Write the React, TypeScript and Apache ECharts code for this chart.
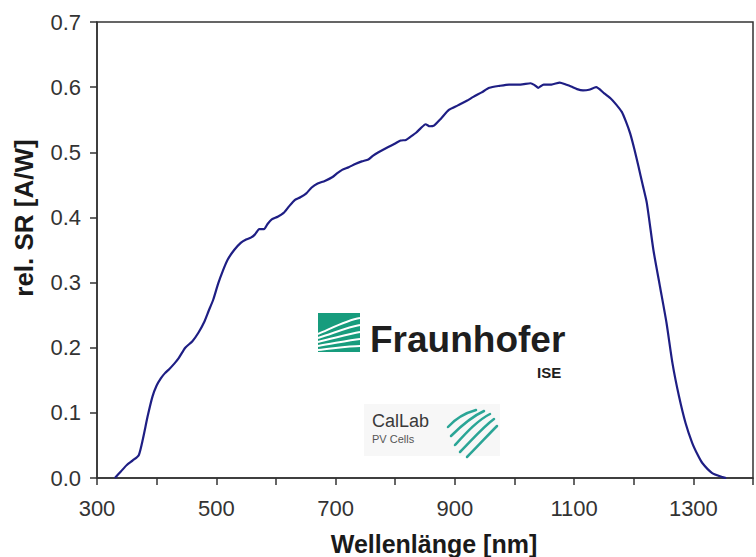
import React, { useEffect, useRef } from "react";
import * as echarts from "echarts";

const wavelengths = [
  330, 340, 350, 360, 370, 377, 385, 393, 400, 407, 414, 421, 430, 437, 448, 460, 470, 480, 487, 495,
  503, 511, 519, 530, 541, 550, 558, 565, 572, 580, 586, 593, 603, 613, 622, 632, 641, 651, 660, 670,
  682, 695, 703, 711, 722, 733, 744, 755, 763, 772, 786, 799, 809, 818, 826, 835, 843, 851, 858, 865,
  877, 890, 905, 920, 931, 945, 958, 975, 991, 1010, 1027, 1034, 1040, 1049, 1062, 1076, 1086, 1095, 1105, 1115,
  1125, 1137, 1150, 1161, 1170, 1180, 1187, 1194, 1201, 1208, 1215, 1222, 1233, 1244, 1255, 1265, 1276, 1287, 1298, 1307,
  1315, 1331, 1348, 1355,
];
const responsivity = [
  0.0, 0.01, 0.02, 0.027, 0.035, 0.06, 0.095, 0.125, 0.142, 0.153, 0.161, 0.167, 0.176, 0.184, 0.2, 0.21, 0.223, 0.24, 0.256, 0.274,
  0.298, 0.318, 0.335, 0.35, 0.361, 0.366, 0.369, 0.374, 0.382, 0.382, 0.39, 0.397, 0.401, 0.407, 0.417, 0.427, 0.431, 0.437, 0.446, 0.452,
  0.456, 0.462, 0.468, 0.473, 0.477, 0.482, 0.486, 0.489, 0.495, 0.5, 0.507, 0.513, 0.518, 0.519, 0.524, 0.53, 0.537, 0.543, 0.54, 0.541,
  0.552, 0.565, 0.572, 0.579, 0.585, 0.592, 0.599, 0.602, 0.604, 0.604, 0.606, 0.603, 0.599, 0.604, 0.604, 0.607, 0.604, 0.601, 0.597, 0.595,
  0.596, 0.6, 0.591, 0.583, 0.574, 0.562, 0.547, 0.529, 0.505, 0.478, 0.45, 0.422, 0.35, 0.294, 0.238, 0.176, 0.125, 0.084, 0.054, 0.036,
  0.023, 0.008, 0.0015, 0.0,
];
const xTickLabels = ["300", "500", "700", "900", "1100", "1300"];
const xTitle = "Wellenlänge [nm]";
const yTitle = "rel. SR [A/W]";

const FONT = '"Liberation Sans", Arial, sans-serif';

export default function App() {
  const ref = useRef<HTMLDivElement>(null);
  useEffect(() => {
    if (!ref.current) return;
    const chart = echarts.init(ref.current, null, { renderer: "svg" });
    const data = wavelengths.map((w, i) => [w, responsivity[i]]);
    const green = "#179c7d";
    const teal = "#2aa596";
    const fanCurves = [
      { x1: 318, y1: 334, cx1: 332, cy1: 328, cx2: 347, cy2: 320, x2: 360, y2: 318 },
      { x1: 318, y1: 338, cx1: 334, cy1: 333, cx2: 348, cy2: 327, x2: 360, y2: 325 },
      { x1: 318, y1: 342, cx1: 335, cy1: 338, cx2: 349, cy2: 334, x2: 360, y2: 332 },
      { x1: 318, y1: 346, cx1: 336, cy1: 343, cx2: 350, cy2: 340, x2: 360, y2: 339 },
      { x1: 318, y1: 350, cx1: 337, cy1: 348, cx2: 350, cy2: 346, x2: 360, y2: 346 },
    ];
    const tealCurves = [
      { x1: 448, y1: 427, cx1: 456, cy1: 418, cx2: 465, cy2: 413, x2: 476, y2: 410 },
      { x1: 451, y1: 436, cx1: 462, cy1: 425, cx2: 473, cy2: 416, x2: 484, y2: 411 },
      { x1: 455, y1: 445, cx1: 467, cy1: 432, cx2: 478, cy2: 420, x2: 490, y2: 414 },
      { x1: 460, y1: 452, cx1: 472, cy1: 440, cx2: 483, cy2: 427, x2: 494, y2: 419 },
      { x1: 467, y1: 457, cx1: 478, cy1: 446, cx2: 488, cy2: 435, x2: 497, y2: 426 },
    ];
    const graphics: any[] = [
      { type: "rect", shape: { x: 318, y: 313, width: 42, height: 39 }, style: { fill: green } },
      ...fanCurves.map((c) => ({
        type: "bezierCurve",
        shape: { x1: c.x1, y1: c.y1, cpx1: c.cx1, cpy1: c.cy1, cpx2: c.cx2, cpy2: c.cy2, x2: c.x2, y2: c.y2 },
        style: { stroke: "#ffffff", lineWidth: 2, fill: null },
      })),
      {
        type: "text",
        x: 370,
        y: 339,
        style: { text: "Fraunhofer", font: `bold 37px ${FONT}`, fill: "#1e1e1e", verticalAlign: "middle", align: "left" },
      },
      {
        type: "text",
        x: 537,
        y: 372,
        style: { text: "ISE", font: `bold 15px ${FONT}`, fill: "#1e1e1e", verticalAlign: "middle", align: "left" },
      },
      { type: "rect", shape: { x: 364, y: 404, width: 136, height: 52 }, style: { fill: "#f7f7f7" } },
      {
        type: "text",
        x: 372,
        y: 421,
        style: { text: "CalLab", font: `18px ${FONT}`, fill: "#3a3a3a", verticalAlign: "middle", align: "left" },
      },
      {
        type: "text",
        x: 372,
        y: 439,
        style: { text: "PV Cells", font: `11px ${FONT}`, fill: "#555555", verticalAlign: "middle", align: "left" },
      },
      ...tealCurves.map((c) => ({
        type: "bezierCurve",
        shape: { x1: c.x1, y1: c.y1, cpx1: c.cx1, cpy1: c.cy1, cpx2: c.cx2, cpy2: c.cy2, x2: c.x2, y2: c.y2 },
        style: { stroke: teal, lineWidth: 2.5, fill: null, lineCap: "round" },
      })),
      {
        type: "text",
        x: 434,
        y: 544,
        style: { text: xTitle, font: `bold 25px ${FONT}`, fill: "#1a1a1a", verticalAlign: "middle", align: "center" },
      },
      {
        type: "text",
        x: 24,
        y: 218,
        rotation: Math.PI / 2,
        style: { text: yTitle, font: `bold 26px ${FONT}`, fill: "#1a1a1a", verticalAlign: "middle", align: "center" },
      },
    ];
    chart.setOption({
      animation: false,
      backgroundColor: "#ffffff",
      grid: { left: 97, top: 22, width: 668, height: 456, show: true, borderColor: "#333333", borderWidth: 1.5, backgroundColor: "transparent" },
      xAxis: {
        type: "value",
        min: 300,
        max: 1400,
        interval: 100,
        splitLine: { show: false },
        axisLine: { show: true, lineStyle: { color: "#333333", width: 1.5 } },
        axisTick: { show: true, length: 7, inside: false, lineStyle: { color: "#333333", width: 1.5 } },
        axisLabel: {
          color: "#333333",
          fontSize: 22,
          fontFamily: FONT,
          margin: 19,
          formatter: (v: number) => (xTickLabels.includes(String(v)) ? String(v) : ""),
        },
      },
      yAxis: {
        type: "value",
        min: 0,
        max: 0.7,
        interval: 0.1,
        splitLine: { show: false },
        axisLine: { show: true, lineStyle: { color: "#333333", width: 1.5 } },
        axisTick: { show: true, length: 7, inside: false, lineStyle: { color: "#333333", width: 1.5 } },
        axisLabel: { color: "#333333", fontSize: 22, fontFamily: FONT, margin: 16, formatter: (v: number) => v.toFixed(1) },
      },
      series: [
        {
          type: "line",
          data,
          showSymbol: false,
          smooth: 0.2,
          lineStyle: { color: "#1e1e84", width: 2.2 },
          itemStyle: { color: "#1e1e84" },
        },
      ],
      graphic: graphics,
    });
    return () => chart.dispose();
  }, []);
  return <div ref={ref} style={{ position: "fixed", left: 0, top: 0, width: 756, height: 557 }} />;
}
